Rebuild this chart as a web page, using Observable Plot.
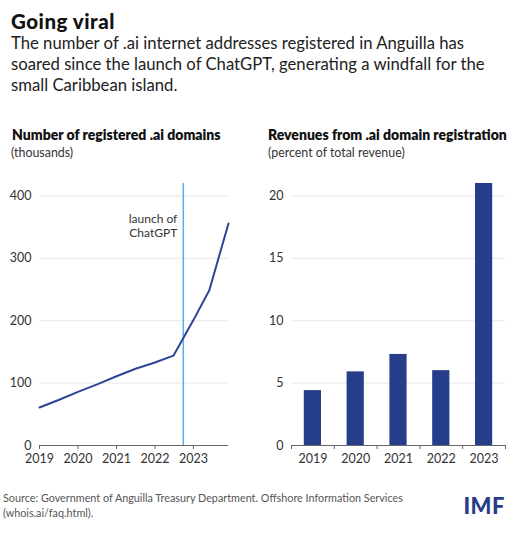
<!DOCTYPE html>
<html>
<head>
<meta charset="utf-8">
<script src="https://cdn.jsdelivr.net/npm/d3@7"></script>
<script src="https://cdn.jsdelivr.net/npm/@observablehq/plot@0.6"></script>
<style>
  body { margin: 0; width: 518px; height: 538px; background: #fff; font-family: Lato, "Noto Sans", sans-serif; color: #222; overflow: hidden; }
  #header { height: 120px; padding: 0 11px; box-sizing: border-box; }
  #title { font-weight: 900; font-size: 20.5px; letter-spacing: 0.5px; line-height: 22px; padding-top: 10px; color: #111; }
  #subtitle { font-size: 16.7px; line-height: 21px; color: #222; margin-top: 1px; width: 492px; }
  #row { display: flex; }
  .col { position: relative; }
  .ct { font-weight: 800; font-size: 14px; line-height: 20px; height: 20px; margin-top: 5px; color: #111; white-space: nowrap; }
  .cs { font-size: 12.4px; line-height: 16px; height: 16px; color: #333; white-space: nowrap; }
  #footer { position: relative; padding-left: 3px; margin-top: 15px; font-size: 10.8px; line-height: 15px; color: #555; }
  #imf { position: absolute; right: 13px; top: 8px; font-size: 22px; font-weight: 900; color: #263d8a; letter-spacing: 0.5px; }
</style>
</head>
<body>
<div id="header">
  <div id="title">Going viral</div>
  <div id="subtitle">The number of .ai internet addresses registered in Anguilla has soared since the launch of ChatGPT, generating a windfall for the small Caribbean island.</div>
</div>
<div id="row">
  <div class="col" id="left" style="width:258px">
    <div class="ct" style="padding-left:12px">Number of registered .ai domains</div>
    <div class="cs" style="padding-left:11px">(thousands)</div>
  </div>
  <div class="col" id="right" style="width:260px">
    <div class="ct" style="padding-left:10px">Revenues from .ai domain registration</div>
    <div class="cs" style="padding-left:10px">(percent of total revenue)</div>
  </div>
</div>
<div id="footer">
  Source: Government of Anguilla Treasury Department. Offshore Information Services<br>(whois.ai/faq.html).
  <div id="imf">IMF</div>
</div>
<script>
// Left chart data: registered .ai domains (thousands)
const domainDates = ["2019-01-01","2019-07-01","2020-01-01","2020-07-01","2021-01-01","2021-07-01","2022-01-01","2022-06-25","2023-01-01","2023-06-01","2023-11-30"];
const domainCounts = [61, 73, 86, 98, 111, 123, 133, 144, 201, 249, 356];
const chatgptDate = "2022-09-27";
const leftYTicks = [0, 100, 200, 300, 400];
const leftXTickYears = [2019, 2020, 2021, 2022, 2023];

// Right chart data: revenue share (percent)
const revenueYears = [2019, 2020, 2021, 2022, 2023];
const revenueShare = [4.4, 5.9, 7.3, 6.0, 21.0];
const rightYTicks = [0, 5, 10, 15, 20];

const lineColor = "#2e4596";
const barColor = "#263d8a";
const markerColor = "#58aef2";
const gridColor = "#e8e8e8";
const axisColor = "#666";
const textColor = "#333";
const font = "Lato, 'Noto Sans', sans-serif";

const domains = domainDates.map((d, i) => ({date: new Date(d), value: domainCounts[i]}));
const yearDates = leftXTickYears.map(y => new Date(`${y}-01-01`));

const left = Plot.plot({
  width: 258, height: 314,
  marginLeft: 39, marginRight: 30, marginTop: 22, marginBottom: 30,
  style: {fontFamily: font, fontSize: "12px", color: textColor, background: "white"},
  x: {type: "time", domain: [new Date("2019-01-01"), new Date("2023-11-30")], axis: null},
  y: {domain: [0, 420], axis: null},
  marks: [
    Plot.ruleY(leftYTicks.filter(d => d > 0), {stroke: gridColor, strokeWidth: 1}),
    Plot.axisY(leftYTicks, {tickSize: 0, tickPadding: 8, fontSize: 12.5, fill: textColor, label: null}),
    Plot.ruleX([new Date(chatgptDate)], {stroke: markerColor, strokeWidth: 1.5}),
    Plot.text([{d: new Date(chatgptDate), v: 352}], {x: "d", y: "v", text: () => "launch of\nChatGPT", textAnchor: "end", lineAnchor: "middle", dx: -6, lineHeight: 1.15, fontSize: 12, fill: textColor}),
    Plot.line(domains, {x: "date", y: "value", stroke: lineColor, strokeWidth: 2}),
    Plot.ruleY([0], {stroke: axisColor, strokeWidth: 1}),
    Plot.axisX(yearDates, {tickSize: 4, tickPadding: 5, stroke: axisColor, fill: textColor, fontSize: 12.5, tickFormat: d3.utcFormat("%Y"), label: null})
  ]
});
document.getElementById("left").appendChild(left);

const revenue = revenueYears.map((y, i) => ({year: y, value: revenueShare[i]}));
const bandEdges = [revenueYears[0] - 0.5, ...revenueYears.map(y => y + 0.5)];

const right = Plot.plot({
  width: 260, height: 314,
  marginLeft: 33, marginRight: 13, marginTop: 22, marginBottom: 30,
  style: {fontFamily: font, fontSize: "12px", color: textColor, background: "white"},
  x: {domain: [revenueYears[0] - 0.5, revenueYears[revenueYears.length - 1] + 0.5], axis: null},
  y: {domain: [0, 21], axis: null},
  marks: [
    Plot.ruleY(rightYTicks.filter(d => d > 0), {stroke: gridColor, strokeWidth: 1}),
    Plot.axisY(rightYTicks, {tickSize: 0, tickPadding: 8, fontSize: 12.5, fill: textColor, label: null}),
    Plot.rectY(revenue, {x1: d => d.year - 0.5, x2: d => d.year + 0.5, y: "value", fill: barColor, insetLeft: 12.8, insetRight: 12.8}),
    Plot.ruleY([0], {stroke: axisColor, strokeWidth: 1}),
    Plot.axisX(bandEdges, {tickSize: 4, stroke: axisColor, tickFormat: () => "", label: null}),
    Plot.axisX(revenueYears, {tickSize: 0, tickPadding: 9, fill: textColor, fontSize: 12.5, tickFormat: d => String(d), label: null})
  ]
});
document.getElementById("right").appendChild(right);
</script>
</body>
</html>
